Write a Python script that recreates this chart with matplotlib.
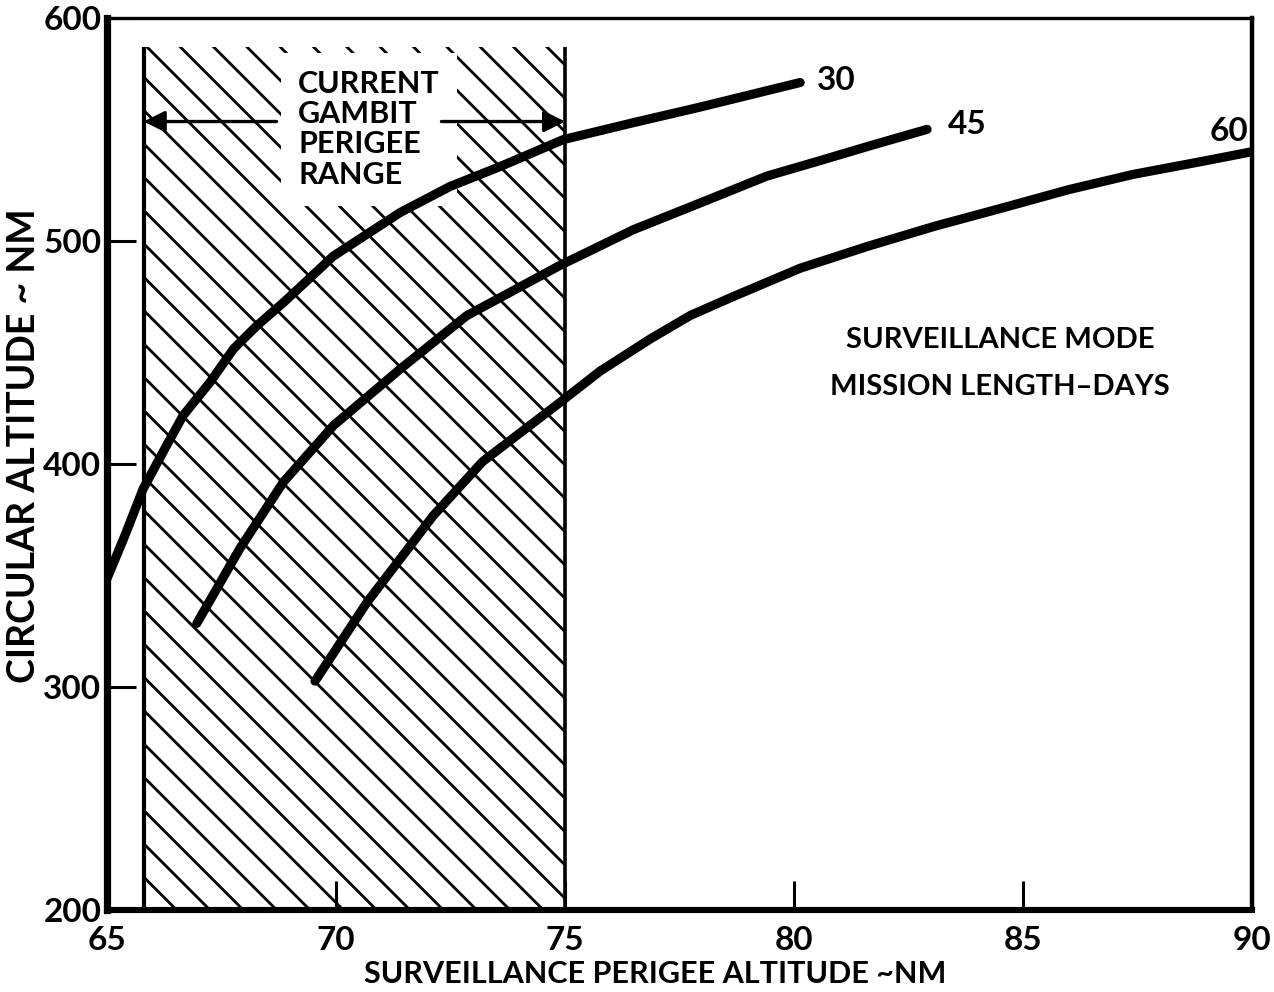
"""
Surveillance mode chart: circular altitude against perigee altitude,
one curve per mission length, with the current GAMBIT perigee range hatched.
"""
import matplotlib
matplotlib.use('Agg')
import matplotlib.pyplot as plt

# --- data --------------------------------------------------------------
perigee_30 = [65.0, 65.39, 65.79, 66.3, 66.66, 67.25, 67.76, 68.27, 68.85,
              69.36, 69.93, 71.4, 72.49, 73.58, 74.96, 76.49, 77.95, 80.13]
altitude_30 = [348.5, 367.8, 388.8, 408.2, 421.6, 436.6, 451.5, 461.9, 472.3,
               482.0, 493, 512.7, 524.4, 533.3, 545.4, 553, 560, 571]

perigee_45 = [66.96, 67.9, 68.85, 69.94, 71.4, 72.85, 74.89, 76.49,
              77.95, 79.4, 80.57, 81.6, 82.9]
altitude_45 = [328.4, 362, 391.8, 417.1, 442.5, 466.4, 489, 505,
               517, 529, 536, 542.3, 550]

perigee_60 = [69.54, 70.68, 72.12, 73.2, 74.9, 75.76, 76.86, 77.73, 78.67,
              80.13, 81.6, 83.06, 84.5, 86.0, 87.4, 88.9, 90.0]
altitude_60 = [302.5, 338, 376.7, 401, 427.7, 441.5, 456, 466.5, 475,
               487.7, 497.5, 506.5, 514.5, 523, 529.8, 535.6, 540]

mission_days = ['30', '45', '60']
gambit_range = [65.8, 75.0]
gambit_top = 587

x_ticks = [65, 70, 75, 80, 85, 90]
y_ticks = [200, 300, 400, 500, 600]

plt.rcParams['font.family'] = ['Lato', 'DejaVu Sans']
plt.rcParams['font.weight'] = 'bold'
plt.rcParams['axes.labelweight'] = 'bold'
plt.rcParams['hatch.linewidth'] = 1.0

fig = plt.figure(figsize=(6.37, 4.96), dpi=200)
ax = fig.add_axes([0.084, 0.083, 0.899, 0.899])

# hatched GAMBIT perigee range
ax.fill_between(gambit_range, 200, gambit_top, hatch='\\\\',
                facecolor='none', edgecolor='black', linewidth=0, zorder=1)
ax.vlines(gambit_range[0], 200, gambit_top, color='black', lw=1.5, zorder=2)
ax.vlines(gambit_range[1], 200, gambit_top, color='black', lw=1.3, zorder=2)

# mission length curves
for xs, ys in [(perigee_30, altitude_30), (perigee_45, altitude_45),
               (perigee_60, altitude_60)]:
    ax.plot(xs, ys, color='black', lw=3.3, solid_capstyle='round',
            solid_joinstyle='round', zorder=4)

# curve labels
ax.text(80.5, 572, mission_days[0], ha='left', va='center', fontsize=12)
ax.text(83.35, 552, mission_days[1], ha='left', va='center', fontsize=12)
ax.text(89.5, 549, mission_days[2], ha='center', va='center', fontsize=12)

# range annotation
ax.text(69.17, 550, 'CURRENT\nGAMBIT\nPERIGEE\nRANGE', ha='left', va='center',
        fontsize=11, linespacing=1.1, zorder=3,
        bbox=dict(facecolor='white', edgecolor='none', boxstyle='square,pad=0.55'))
ax.annotate('', xy=(gambit_range[0], 553.5), xytext=(68.7, 553.5), zorder=5,
            arrowprops=dict(arrowstyle='-|>', color='black', lw=1.2,
                            mutation_scale=16, shrinkA=0, shrinkB=0))
ax.annotate('', xy=(gambit_range[1], 553.5), xytext=(72.3, 553.5), zorder=5,
            arrowprops=dict(arrowstyle='-|>', color='black', lw=1.2,
                            mutation_scale=16, shrinkA=0, shrinkB=0))

ax.text(84.5, 445, 'SURVEILLANCE MODE\nMISSION LENGTH\u2013DAYS', ha='center',
        va='center', fontsize=10.5, linespacing=2.0)

# axes styling
ax.set_xlim(65, 90)
ax.set_ylim(200, 600)
ax.set_xticks(x_ticks)
ax.set_yticks(y_ticks)
ax.tick_params(axis='both', direction='in', length=10.5, width=1.1,
               labelsize=12, colors='black')
ax.tick_params(axis='x', pad=6)
ax.tick_params(axis='y', pad=2)
ax.spines['left'].set_linewidth(2.6)
ax.spines['bottom'].set_linewidth(2.2)
ax.spines['top'].set_linewidth(1.2)
ax.spines['right'].set_linewidth(1.6)

ax.set_xlabel('SURVEILLANCE PERIGEE ALTITUDE ~NM', fontsize=11)
ax.xaxis.set_label_coords(0.479, -0.056)
ax.set_ylabel('CIRCULAR ALTITUDE ~ NM', fontsize=13.5)
ax.yaxis.set_label_coords(-0.058, 0.52)

fig.savefig('out.png', dpi=200, facecolor='white')
plt.close(fig)
